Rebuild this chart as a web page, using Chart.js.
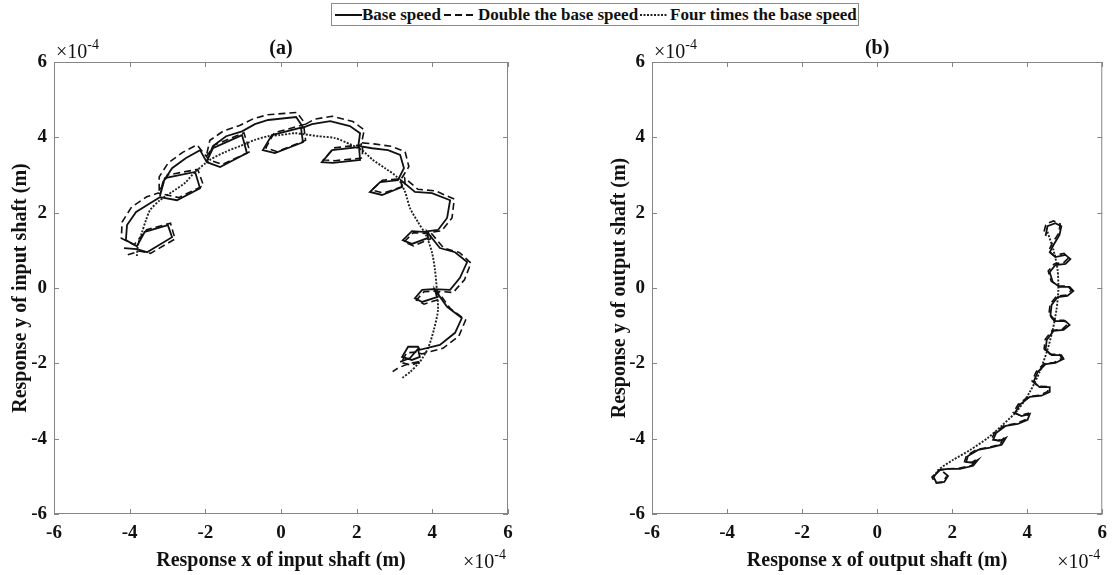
<!DOCTYPE html>
<html>
<head>
<meta charset="utf-8">
<script src="https://cdn.jsdelivr.net/npm/chart.js@4/dist/chart.umd.min.js"></script>
<style>
  html,body{margin:0;padding:0;background:#fff;}
  body{width:1115px;height:575px;position:relative;overflow:hidden;font-family:"Liberation Serif","Times New Roman",serif;}
  canvas{position:absolute;top:0;}
  #legend{position:absolute;left:331px;top:3px;width:526px;height:21px;border:1px solid #8a8a8a;background:#fff;z-index:5;font-weight:bold;font-size:17px;color:#111;}
  #legend span{position:absolute;top:0px;line-height:21px;white-space:nowrap;}
  #legend svg{position:absolute;top:0;}
</style>
</head>
<body>
<canvas id="ca" width="557" height="575" style="left:0"></canvas>
<canvas id="cb" width="558" height="575" style="left:557px"></canvas>
<div id="legend">
  <svg style="left:3px" width="27" height="21"><line x1="0" y1="11" x2="27" y2="11" stroke="#111" stroke-width="2"/></svg>
  <span style="left:30px">Base speed</span>
  <svg style="left:112px" width="30" height="21"><line x1="0" y1="11" x2="30" y2="11" stroke="#111" stroke-width="2" stroke-dasharray="7,4"/></svg>
  <span style="left:146px">Double the base speed</span>
  <svg style="left:308px" width="28" height="21"><line x1="0" y1="11" x2="28" y2="11" stroke="#222" stroke-width="2" stroke-dasharray="2,1.5"/></svg>
  <span style="left:338px">Four times the base speed</span>
</div>
<script>
// ---- tick labels (units of 1e-4 m) ----
const tickValues = [-6, -4, -2, 0, 2, 4, 6];

// ---- (a) input shaft orbit ----
const baseSpeedA = [
  [-4.15,1.06],[-3.81,1.03],[-3.54,0.95],[-2.88,1.35],[-2.99,1.67],[-3.60,1.49],[-3.81,1.11],[-4.10,1.27],
  [-4.07,1.67],[-3.83,2.02],[-3.46,2.25],[-3.20,2.41],[-2.75,2.33],[-2.14,2.65],[-2.27,3.08],[-3.07,2.92],
  [-3.20,2.44],[-3.12,2.81],[-2.88,3.18],[-2.51,3.45],[-2.14,3.66],[-1.96,3.34],[-1.61,3.21],[-0.90,3.58],
  [-1.03,4.06],[-1.80,3.71],[-1.96,3.37],[-1.80,3.77],[-1.45,4.03],[-1.03,4.16],[-0.69,4.35],[-0.34,4.46],
  [0.40,4.54],[0.58,4.27],[-0.24,4.06],[-0.48,3.66],[-0.16,3.58],[0.58,3.87],[0.53,4.24],[0.82,4.35],
  [1.30,4.43],[1.82,4.30],[2.09,4.11],[2.04,3.74],[1.35,3.66],[1.08,3.34],[1.37,3.32],[2.09,3.40],
  [2.06,3.77],[2.41,3.71],[2.83,3.66],[3.15,3.53],[3.25,3.18],[3.09,2.86],[2.62,2.81],[2.35,2.55],
  [2.67,2.47],[3.20,2.68],[3.17,2.86],[3.54,2.55],[3.99,2.52],[4.47,2.33],[4.39,1.86],[4.15,1.54],
  [3.75,1.49],[3.46,1.51],[3.22,1.27],[3.46,1.17],[3.89,1.33],[3.86,1.49],[4.20,1.06],[4.60,0.95],
  [4.92,0.69],[4.73,0.27],[4.47,-0.05],[4.02,-0.03],[3.73,-0.05],[3.54,-0.27],[3.73,-0.37],[4.12,-0.24],
  [4.07,-0.05],[4.39,-0.50],[4.78,-0.80],[4.60,-1.19],[4.20,-1.51],[3.67,-1.64],[3.62,-1.56],[3.36,-1.56],
  [3.20,-1.83],[3.46,-1.91],[3.67,-1.83],[3.62,-1.62],[3.41,-1.86],[3.15,-1.96]
];
const doubleSpeedA = [
  [-4.05,0.88],[-3.75,0.98],[-3.45,0.92],[-2.80,1.30],[-2.92,1.72],[-3.55,1.55],[-3.88,1.15],[-4.22,1.32],
  [-4.20,1.75],[-3.95,2.15],[-3.55,2.42],[-3.25,2.52],[-2.70,2.40],[-2.05,2.72],[-2.20,3.15],[-3.00,3.00],
  [-3.22,2.55],[-3.22,2.95],[-2.98,3.32],[-2.60,3.60],[-2.22,3.80],[-1.90,3.40],[-1.55,3.28],[-0.82,3.62],
  [-0.98,4.12],[-1.75,3.80],[-1.98,3.48],[-1.88,3.92],[-1.52,4.17],[-1.08,4.32],[-0.72,4.50],[-0.35,4.60],
  [0.42,4.66],[0.65,4.35],[-0.18,4.12],[-0.40,3.72],[-0.10,3.62],[0.65,3.92],[0.60,4.32],[0.88,4.48],
  [1.35,4.56],[1.90,4.42],[2.20,4.20],[2.12,3.80],[1.40,3.72],[1.12,3.40],[1.42,3.38],[2.15,3.45],
  [2.16,3.85],[2.50,3.82],[2.92,3.76],[3.28,3.62],[3.38,3.22],[3.18,2.90],[2.68,2.86],[2.40,2.60],
  [2.72,2.52],[3.28,2.72],[3.27,2.92],[3.62,2.62],[4.08,2.58],[4.58,2.36],[4.52,1.86],[4.25,1.52],
  [3.80,1.45],[3.50,1.47],[3.25,1.22],[3.50,1.12],[3.95,1.30],[3.95,1.48],[4.30,1.06],[4.72,0.94],
  [5.02,0.66],[4.85,0.22],[4.55,-0.12],[4.08,-0.08],[3.78,-0.10],[3.58,-0.32],[3.78,-0.43],[4.18,-0.30],
  [4.15,-0.10],[4.48,-0.55],[4.88,-0.85],[4.70,-1.28],[4.28,-1.60],[3.72,-1.75],[3.60,-1.70],[3.32,-1.72],
  [3.18,-1.98],[3.45,-2.05],[3.70,-1.95],[3.40,-2.00],[3.10,-2.12],[2.95,-2.22]
];
const fourSpeedA = [
  [-3.81,0.85],[-3.78,1.14],[-3.67,1.49],[-3.57,1.80],[-3.46,2.07],[-3.20,2.33],[-2.88,2.55],[-2.54,2.79],
  [-2.27,3.08],[-1.88,3.40],[-1.48,3.61],[-1.08,3.77],[-0.69,3.93],[-0.34,4.03],[-0.03,4.06],[0.37,4.11],
  [0.63,4.08],[0.98,4.03],[1.43,3.98],[1.82,3.82],[2.14,3.66],[2.43,3.40],[2.75,3.18],[3.07,2.94],
  [3.28,2.55],[3.41,2.12],[3.62,1.75],[3.83,1.41],[3.99,0.95],[4.07,0.48],[4.12,-0.05],[4.15,-0.58],
  [4.04,-1.11],[3.89,-1.59],[3.67,-1.96],[3.41,-2.23],[3.20,-2.39]
];

// ---- (b) output shaft orbit ----
const baseSpeedB = [
  [4.49,1.38],[4.54,1.64],[4.75,1.72],[4.91,1.64],[4.86,1.41],[4.70,1.14],[4.60,0.95],[4.75,0.82],
  [5.02,0.88],[5.15,0.77],[5.02,0.64],[4.75,0.61],[4.60,0.42],[4.68,0.16],[4.86,0.03],[5.13,0.03],
  [5.23,-0.08],[5.07,-0.21],[4.81,-0.24],[4.65,-0.45],[4.62,-0.72],[4.75,-0.88],[5.02,-0.88],[5.13,-0.98],
  [4.97,-1.11],[4.70,-1.14],[4.52,-1.38],[4.49,-1.64],[4.65,-1.78],[4.91,-1.78],[4.97,-1.88],[4.75,-1.99],
  [4.49,-2.02],[4.28,-2.23],[4.17,-2.49],[4.33,-2.63],[4.60,-2.63],[4.60,-2.76],[4.38,-2.86],[4.07,-2.89],
  [3.80,-3.10],[3.67,-3.32],[3.85,-3.40],[4.07,-3.34],[4.01,-3.50],[3.75,-3.61],[3.43,-3.66],[3.17,-3.85],
  [3.09,-4.03],[3.27,-4.06],[3.43,-3.98],[3.32,-4.16],[3.01,-4.24],[2.69,-4.30],[2.42,-4.46],[2.37,-4.62],
  [2.56,-4.64],[2.69,-4.56],[2.56,-4.72],[2.21,-4.80],[1.89,-4.80],[1.68,-4.83],[1.50,-5.01],[1.58,-5.17],
  [1.79,-5.15],[1.89,-4.99],[1.76,-4.88]
];
const doubleSpeedB = [
  [4.45,1.50],[4.50,1.70],[4.70,1.78],[4.88,1.70],[4.84,1.45],[4.66,1.18],[4.57,0.98],[4.72,0.86],
  [4.98,0.92],[5.10,0.80],[4.98,0.68],[4.72,0.64],[4.56,0.45],[4.64,0.18],[4.84,0.06],[5.08,0.05],
  [5.18,-0.06],[5.03,-0.19],[4.78,-0.22],[4.61,-0.43],[4.58,-0.70],[4.71,-0.86],[4.98,-0.86],[5.08,-0.96],
  [4.93,-1.10],[4.66,-1.13],[4.48,-1.36],[4.45,-1.62],[4.61,-1.76],[4.86,-1.76],[4.92,-1.87],[4.71,-1.98],
  [4.45,-2.01],[4.24,-2.22],[4.13,-2.47],[4.29,-2.61],[4.55,-2.62],[4.55,-2.75],[4.33,-2.85],[4.03,-2.88],
  [3.76,-3.09],[3.63,-3.30],[3.81,-3.38],[4.02,-3.33],[3.96,-3.49],[3.70,-3.60],[3.39,-3.65],[3.13,-3.84],
  [3.05,-4.01],[3.23,-4.05],[3.38,-3.97],[3.28,-4.15],[2.97,-4.23],[2.65,-4.29],[2.38,-4.45],[2.33,-4.61],
  [2.52,-4.63],[2.65,-4.55],[2.52,-4.71],[2.17,-4.79],[1.85,-4.80],[1.64,-4.84],[1.46,-5.02],[1.55,-5.18],
  [1.75,-5.16],[1.85,-5.00]
];
const fourSpeedB = [
  [4.54,1.49],[4.70,1.01],[4.81,0.48],[4.83,-0.05],[4.78,-0.58],[4.68,-1.11],[4.54,-1.64],[4.33,-2.23],
  [4.07,-2.76],[3.75,-3.24],[3.35,-3.63],[2.95,-3.98],[2.48,-4.30],[2.03,-4.56],[1.63,-4.83],[1.50,-5.04]
];

const FONT = "'Liberation Serif','Times New Roman',serif";
const INK = '#111';
const toXY = arr => arr.map(p => ({x: p[0], y: p[1]}));

const framePlugin = {
  id: 'frame',
  afterDatasetsDraw(chart, args, opts) {
    const {ctx, chartArea: a, scales} = chart;
    ctx.save();
    ctx.strokeStyle = '#858585';
    ctx.lineWidth = 1;
    ctx.strokeRect(a.left + 0.5, a.top + 0.5, a.right - a.left - 1, a.bottom - a.top - 1);
    const tl = 5;
    ctx.beginPath();
    scales.x.ticks.forEach(t => {
      const px = Math.round(scales.x.getPixelForValue(t.value)) + 0.5;
      ctx.moveTo(px, a.bottom); ctx.lineTo(px, a.bottom - tl);
      ctx.moveTo(px, a.top); ctx.lineTo(px, a.top + tl);
    });
    scales.y.ticks.forEach(t => {
      const py = Math.round(scales.y.getPixelForValue(t.value)) + 0.5;
      ctx.moveTo(a.left, py); ctx.lineTo(a.left + tl, py);
      ctx.moveTo(a.right, py); ctx.lineTo(a.right - tl, py);
    });
    ctx.stroke();
    // panel title
    ctx.fillStyle = INK;
    ctx.font = `bold 20px ${FONT}`;
    ctx.textAlign = 'center';
    ctx.textBaseline = 'middle';
    ctx.fillText(opts.title, (a.left + a.right) / 2, 49);
    // exponent labels
    const expo = (x, yBase) => {
      ctx.textAlign = 'left';
      ctx.textBaseline = 'alphabetic';
      ctx.font = `20px ${FONT}`;
      ctx.fillText('\u00d710', x, yBase);
      const w = ctx.measureText('\u00d710').width;
      ctx.font = `14px ${FONT}`;
      ctx.fillText('-4', x + w, yBase - 9);
    };
    expo(a.left + 2, 58);
    expo(a.right - 45, 568);
    ctx.restore();
  }
};

function makeChart(id, sets, cfg) {
  const axisTickFont = {family: FONT, size: 19, weight: 'bold'};
  const titleFont = {family: FONT, size: 20, weight: 'bold'};
  return new Chart(document.getElementById(id), {
    type: 'scatter',
    data: {
      datasets: [
        {label: 'Base speed', data: toXY(sets[0]), showLine: true, borderColor: INK, borderWidth: 1.8, pointRadius: 0, tension: 0, fill: false},
        {label: 'Double the base speed', data: toXY(sets[1]), showLine: true, borderColor: INK, borderWidth: 1.6, borderDash: [7, 4], pointRadius: 0, tension: 0, fill: false},
        {label: 'Four times the base speed', data: toXY(sets[2]), showLine: true, borderColor: '#222', borderWidth: 1.9, borderDash: [2, 1.5], pointRadius: 0, tension: 0.25, fill: false}
      ]
    },
    options: {
      responsive: false,
      animation: false,
      devicePixelRatio: 1,
      layout: {padding: {top: 62, right: cfg.padRight, left: 0, bottom: 0}},
      plugins: {
        legend: {display: false},
        tooltip: {enabled: false},
        frame: {title: cfg.title}
      },
      scales: {
        x: {
          type: 'linear', min: tickValues[0], max: tickValues[tickValues.length - 1],
          afterBuildTicks: s => { s.ticks = tickValues.map(v => ({value: v})); },
          ticks: {color: INK, font: axisTickFont, padding: 8, maxRotation: 0, autoSkip: false},
          grid: {display: false, drawTicks: false},
          border: {display: false},
          title: {display: true, text: cfg.xTitle, color: INK, font: titleFont, padding: {top: 0, bottom: 2}},
          afterFit: s => { s.height = 61; }
        },
        y: {
          type: 'linear', min: tickValues[0], max: tickValues[tickValues.length - 1],
          afterBuildTicks: s => { s.ticks = tickValues.map(v => ({value: v})); },
          ticks: {color: INK, font: axisTickFont, padding: 7, autoSkip: false},
          grid: {display: false, drawTicks: false},
          border: {display: false},
          title: {display: true, text: cfg.yTitle, color: INK, font: titleFont, padding: {top: cfg.yTitlePad, bottom: 0}},
          afterFit: s => { s.width = cfg.yWidth; }
        }
      }
    },
    plugins: [framePlugin]
  });
}

makeChart('ca', [baseSpeedA, doubleSpeedA, fourSpeedA], {
  title: '(a)', xTitle: 'Response x of input shaft (m)', yTitle: 'Response y of input shaft (m)',
  yWidth: 54, padRight: 49, yTitlePad: 9
});
makeChart('cb', [baseSpeedB, doubleSpeedB, fourSpeedB], {
  title: '(b)', xTitle: 'Response x of output shaft (m)', yTitle: 'Response y of output shaft (m)',
  yWidth: 95, padRight: 10, yTitlePad: 51
});
</script>
</body>
</html>
